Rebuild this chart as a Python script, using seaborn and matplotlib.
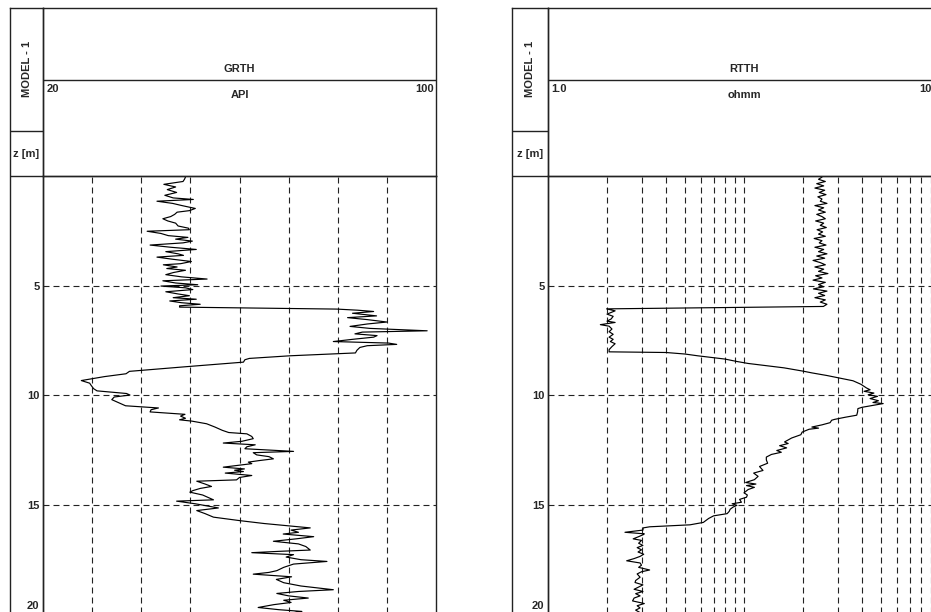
import numpy as np
import pandas as pd
import matplotlib
matplotlib.use("Agg")
import matplotlib.pyplot as plt
import matplotlib.transforms as mtransforms
from matplotlib.ticker import NullLocator, FixedLocator
import seaborn as sns

# ---------------- data ----------------
gr_depth = [0.05, 0.15, 0.25, 0.38, 0.50, 0.62, 0.75, 0.88, 1.00, 1.07, 1.15, 1.25, 1.35, 1.48, 1.58, 1.65,
            1.75, 1.85, 1.95, 2.05, 2.15, 2.28, 2.38, 2.45, 2.52, 2.62, 2.72, 2.80, 2.88, 2.97, 3.05, 3.15,
            3.25, 3.35, 3.45, 3.55, 3.62, 3.70, 3.80, 3.90, 4.00, 4.05, 4.15, 4.22, 4.30, 4.40, 4.50, 4.60,
            4.70, 4.78, 4.88, 4.96, 5.02, 5.10, 5.18, 5.28, 5.38, 5.46, 5.55, 5.62, 5.70, 5.78, 5.85, 5.92,
            5.98, 6.07, 6.12, 6.18, 6.26, 6.32, 6.38, 6.46, 6.55, 6.66, 6.75, 6.86, 6.95, 7.06, 7.12, 7.20,
            7.28, 7.35, 7.45, 7.55, 7.62, 7.68, 7.74, 7.82, 7.95, 8.07, 8.20, 8.32, 8.38, 8.49, 8.70, 8.91,
            9.02, 9.15, 9.33, 9.45, 9.55, 9.70, 9.80, 9.92, 9.99, 10.08, 10.20, 10.40, 10.48, 10.58, 10.66,
            10.76, 10.87, 10.95, 11.05, 11.12, 11.18, 11.30, 11.45, 11.60, 11.70, 11.76, 11.88, 11.98, 12.10,
            12.18, 12.26, 12.35, 12.44, 12.56, 12.62, 12.72, 12.80, 12.90, 12.98, 13.05, 13.12, 13.28, 13.36,
            13.42, 13.48, 13.55, 13.66, 13.75, 13.86, 13.92, 14.05, 14.16, 14.25, 14.35, 14.42, 14.55, 14.65,
            14.77, 14.83, 14.95, 15.05, 15.14, 15.26, 15.40, 15.56, 15.72, 15.85, 15.95, 16.05, 16.15, 16.25,
            16.33, 16.45, 16.55, 16.66, 16.78, 16.90, 17.06, 17.12, 17.18, 17.27, 17.38, 17.50, 17.58, 17.70,
            17.85, 18.00, 18.08, 18.16, 18.28, 18.40, 18.55, 18.70, 18.87, 18.95, 19.04, 19.15, 19.25, 19.35,
            19.45, 19.55, 19.68, 19.78, 19.86, 19.95]
gr_api = [49.0, 48.8, 48.5, 44.6, 47.0, 45.3, 47.2, 44.8, 46.5, 50.6, 43.2, 46.4, 48.3, 51.0, 49.8, 47.3,
          46.8, 46.0, 44.4, 45.4, 47.0, 47.5, 49.6, 49.8, 41.2, 44.0, 45.5, 49.5, 47.0, 50.4, 48.5, 41.8,
          46.0, 51.2, 45.0, 47.5, 48.6, 43.2, 46.5, 50.2, 48.0, 44.5, 47.3, 45.2, 49.0, 46.6, 45.0, 48.2,
          53.4, 44.4, 47.0, 51.5, 44.0, 49.0, 50.5, 45.0, 47.5, 49.8, 46.5, 51.2, 45.8, 48.2, 52.0, 47.8,
          47.8, 79.8, 84.0, 87.3, 83.0, 85.5, 87.9, 82.0, 86.0, 90.0, 86.0, 82.5, 86.5, 98.2, 85.0, 83.5,
          88.0, 87.3, 83.0, 79.1, 90.3, 92.0, 86.0, 84.5, 83.9, 83.6, 70.3, 62.0, 61.1, 60.8, 49.0, 37.6,
          36.9, 32.5, 27.8, 29.5, 29.8, 30.3, 31.0, 37.0, 37.7, 34.5, 34.0, 36.0, 36.8, 43.5, 42.0,
          41.8, 48.9, 48.0, 49.0, 47.8, 50.3, 53.3, 55.0, 56.5, 57.8, 61.5, 62.5, 62.8, 60.5,
          56.7, 63.2, 61.5, 61.1, 71.0, 62.8, 63.5, 66.0, 66.9, 64.0, 61.8, 62.5, 56.7, 61.0,
          59.0, 60.8, 57.1, 62.5, 60.0, 59.4, 51.3, 53.0, 54.3, 52.0, 50.5, 49.9, 52.5, 53.5,
          54.7, 47.2, 51.0, 53.5, 55.7, 51.3, 53.0, 54.7, 60.1, 65.0, 69.6, 74.4, 70.5, 72.0,
          68.9, 75.1, 71.5, 66.9, 72.0, 73.5, 74.4, 68.0, 62.5, 71.0, 69.5, 72.5, 77.8, 71.0,
          69.0, 67.6, 66.0, 62.8, 70.6, 67.5, 69.0, 72.5, 79.1, 72.0, 67.6, 70.0, 74.0, 69.0,
          70.5, 67.0, 63.8, 68.0, 72.7, 70.0]

rt_depth = [0.05, 0.15, 0.25, 0.35, 0.45, 0.55, 0.65, 0.75, 0.85, 0.95, 1.05, 1.15, 1.25, 1.35, 1.45, 1.55,
            1.65, 1.75, 1.85, 1.95, 2.05, 2.15, 2.25, 2.35, 2.45, 2.55, 2.65, 2.75, 2.85, 2.95, 3.05, 3.15,
            3.25, 3.35, 3.45, 3.55, 3.65, 3.75, 3.85, 3.95, 4.05, 4.15, 4.25, 4.35, 4.45, 4.55, 4.65, 4.75,
            4.85, 4.95, 5.05, 5.15, 5.25, 5.35, 5.45, 5.55, 5.65, 5.75, 5.85, 5.95, 6.06, 6.15, 6.30, 6.40,
            6.52, 6.62, 6.68, 6.78, 6.85, 6.98, 7.10, 7.22, 7.35, 7.45, 7.55, 7.65, 7.78, 7.92, 8.02, 8.05,
            8.12, 8.20, 8.35, 8.46, 8.55, 8.75, 8.90, 8.98, 9.10, 9.22, 9.34, 9.50, 9.67, 9.75, 9.82, 9.90,
            9.98, 10.05, 10.15, 10.25, 10.33, 10.38, 10.45, 10.55, 10.61, 10.75, 10.91, 11.00, 11.10, 11.14,
            11.25, 11.35, 11.45, 11.50, 11.55, 11.68, 11.80, 11.95, 12.13, 12.20, 12.30, 12.40, 12.52, 12.60,
            12.70, 12.82, 12.95, 13.10, 13.25, 13.43, 13.55, 13.70, 13.85, 13.98, 14.05, 14.12, 14.20, 14.30,
            14.45, 14.55, 14.65, 14.75, 14.88, 14.95, 15.02, 15.10, 15.20, 15.30, 15.40, 15.50, 15.62, 15.80,
            15.91, 16.00, 16.05, 16.15, 16.25, 16.32, 16.36, 16.45, 16.55, 16.62, 16.75, 16.85, 16.95, 17.05,
            17.15, 17.25, 17.35, 17.45, 17.55, 17.65, 17.75, 17.85, 17.97, 18.05, 18.15, 18.30, 18.45, 18.54,
            18.65, 18.75, 18.85, 18.95, 19.05, 19.15, 19.25, 19.38, 19.50, 19.60, 19.70, 19.80, 19.95]
rt_ohmm = [25.0, 24.0, 26.0, 23.5, 25.5, 23.0, 25.8, 24.2, 26.2, 23.8, 25.0, 24.5, 26.5, 23.0, 25.5, 24.0,
           26.0, 23.5, 25.0, 26.0, 23.2, 25.5, 24.5, 26.3, 23.6, 25.2, 24.0, 26.0, 22.8, 25.0, 24.2, 26.2,
           23.0, 25.5, 24.0, 26.5, 23.5, 25.8, 22.5, 24.5, 26.0, 23.0, 25.5, 24.0, 26.8, 23.2, 25.0, 22.5,
           26.0, 24.0, 25.5, 22.6, 26.5, 24.0, 25.8, 23.0, 26.0, 24.5, 26.5, 25.4, 1.99, 2.2, 2.0, 2.15,
           2.1, 2.0, 2.2, 1.85, 2.05, 2.12, 2.05, 2.15, 2.05, 2.15, 2.08, 2.2, 2.12, 2.05, 2.05, 4.0,
           5.0, 5.8, 8.0, 9.2, 10.5, 16.0, 20.0, 22.2, 26.5, 30.9, 36.0, 39.5, 42.2, 44.0, 41.0, 46.0,
           43.0, 48.0, 44.0, 48.5, 45.5, 51.3, 46.2, 40.0, 38.1, 38.0, 37.6, 33.0, 29.0, 28.0,
           27.5, 25.0, 22.2, 24.0, 21.5, 19.8, 19.5, 17.5, 16.1, 16.8, 15.2, 16.5, 14.7, 15.5,
           13.8, 13.0, 13.0, 13.2, 12.0, 12.5, 11.2, 11.8, 11.3, 10.2, 11.5, 10.3, 11.3, 10.5,
           10.0, 10.4, 10.3, 9.5, 9.7, 8.7, 9.2, 8.8, 8.5, 8.4, 8.2, 7.0, 6.6, 6.2,
           5.3, 3.3, 3.06, 3.05, 2.47, 3.1, 3.06, 2.9, 2.72, 3.0, 2.9, 3.05, 2.85, 3.0,
           2.88, 3.08, 2.95, 2.75, 2.52, 2.95, 3.0, 2.9, 3.3, 3.0, 2.85, 2.95, 2.8, 2.78,
           3.05, 2.9, 2.75, 3.05, 2.8, 2.95, 2.75, 2.7, 3.1, 2.85, 2.95, 2.8, 3.0]

depth_ticks = [5, 10, 15]
gr_grid = [30, 40, 50, 60, 70, 80, 90]
rt_grid = [2, 3, 4, 5, 6, 7, 8, 9, 10, 20, 30, 40, 50, 60, 70, 80, 90]

# ---------------- style ----------------
sns.set_style("white")
plt.rcParams["font.family"] = ["Liberation Sans", "DejaVu Sans"]
plt.rcParams["font.weight"] = "bold"
plt.rcParams["lines.scale_dashes"] = False

W, H = 931, 612
fig = plt.figure(figsize=(W / 100, H / 100), dpi=100)


def rect(x0, y0, x1, y1):
    return [x0 / W, 1 - y1 / H, (x1 - x0) / W, (y1 - y0) / H]


FRAME = "#222222"
FLW = 1.0
GRID_LS = (0, (4.3, 2.9))
FS = 8

TOP, TITLE_Y, LAB_SPLIT, HEAD_BOT, BOT = 8, 80, 131, 176, 614.5


def style_box(a):
    a.set_xticks([])
    a.set_yticks([])
    for s in a.spines.values():
        s.set_visible(True)
        s.set_color(FRAME)
        s.set_linewidth(FLW)
    a.set_facecolor("none")


def make_track(lab_x0, x0, x1, title, unit, left_lab, right_lab, depth, vals, logx, grid_vals, xlim):
    # label column
    lab = fig.add_axes(rect(lab_x0, TOP, x0, BOT))
    style_box(lab)
    lab.set_xlim(0, 1)
    lab.set_ylim(BOT, TOP)
    lab.axhline(LAB_SPLIT, color=FRAME, lw=FLW)
    lab.axhline(HEAD_BOT, color=FRAME, lw=FLW)
    lab.text(0.5, 69, "MODEL - 1", rotation=90, ha="center", va="center", fontsize=FS, fontweight="bold")
    lab.text(0.5, 154, "z [m]", ha="center", va="center", fontsize=FS, fontweight="bold")

    # header
    head = fig.add_axes(rect(x0, TOP, x1, HEAD_BOT))
    style_box(head)
    head.set_xlim(0, 1)
    head.set_ylim(HEAD_BOT, TOP)
    head.axhline(TITLE_Y, color=FRAME, lw=FLW)
    head.text(0.5, 69.5, title, ha="center", va="center", fontsize=FS, fontweight="bold")
    head.text(0.5, 95, unit, ha="center", va="center", fontsize=FS, fontweight="bold")
    head.text(0.008, 89.5, left_lab, ha="left", va="center", fontsize=FS, fontweight="bold")
    head.text(0.994, 89.5, right_lab, ha="right", va="center", fontsize=FS, fontweight="bold")

    # data
    ax = fig.add_axes(rect(x0, HEAD_BOT, x1, BOT))
    df = pd.DataFrame({"depth": depth, "val": vals})
    sns.lineplot(data=df, x="val", y="depth", sort=False, estimator=None, orient="y",
                 color="black", lw=0.85, ax=ax)
    if logx:
        ax.set_xscale("log")
    ax.set_xlim(*xlim)
    ax.set_ylim(20, 0)
    ax.xaxis.set_major_locator(FixedLocator(grid_vals))
    ax.xaxis.set_minor_locator(NullLocator())
    ax.set_yticks(depth_ticks)
    ax.set_yticklabels([str(d) for d in depth_ticks])
    ax.tick_params(axis="x", length=0, labelbottom=False)
    ax.tick_params(axis="y", length=0, pad=2.5, labelsize=FS)
    for t in ax.get_yticklabels():
        t.set_fontweight("bold")
    ax.grid(True, axis="both", color="#222222", lw=0.8, ls=GRID_LS)
    ax.set_xlabel("")
    ax.set_ylabel("")
    for s in ax.spines.values():
        s.set_visible(True)
        s.set_color(FRAME)
        s.set_linewidth(FLW)
    ax.set_facecolor("none")
    # bottom depth label (kept inside the visible frame)
    trans = mtransforms.offset_copy(ax.get_yaxis_transform(), fig=fig, x=-2.5, y=2.5, units="points")
    ax.text(0, 20, "20", transform=trans, ha="right", va="bottom", fontsize=FS, fontweight="bold")
    return ax


make_track(10, 43, 436, "GRTH", "API", "20", "100", gr_depth, gr_api, False, gr_grid, (20, 100))
make_track(512, 548, 940, "RTTH", "ohmm", "1.0", "100", rt_depth, rt_ohmm, True, rt_grid, (1, 100))

fig.savefig("out.png", dpi=100)
